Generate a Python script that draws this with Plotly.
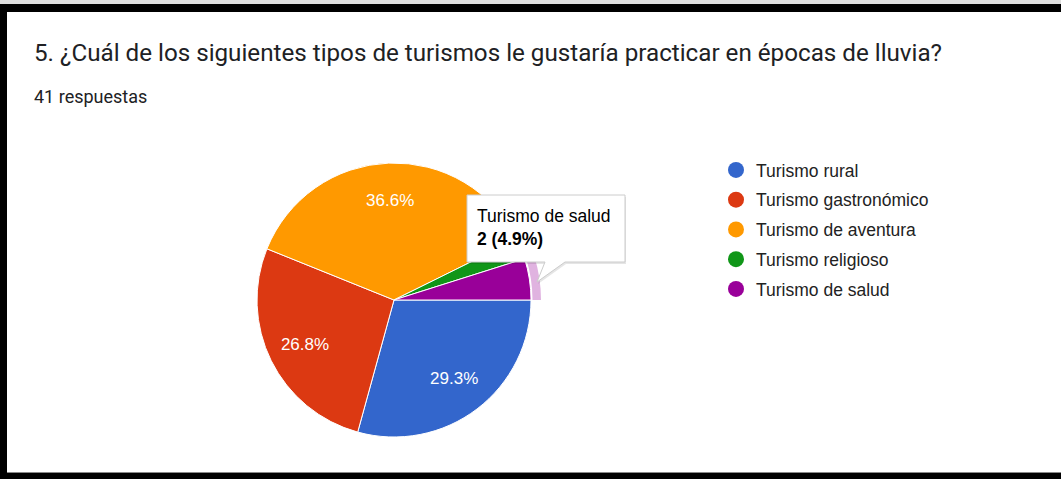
import plotly.graph_objects as go

W, H = 1061, 479

categories = ["Turismo rural", "Turismo gastronómico", "Turismo de aventura",
              "Turismo religioso", "Turismo de salud"]
counts = [12, 11, 15, 1, 2]
colors = ["#3366cc", "#dc3912", "#ff9900", "#109618", "#990099"]
title_text = "5. ¿Cuál de los siguientes tipos de turismos le gustaría practicar en épocas de lluvia?"
highlight_index = 4
highlight_color = "#e0b3e0"

total = sum(counts)

def px(x):
    return x / W

def py(y):
    return 1 - y / H

# pie geometry (pixels)
cx, cy, r = 394, 300, 137
ring_r = 147
pie_domain = dict(x=[px(cx - r), px(cx + r)], y=[py(cy + r), py(cy - r)])

texttemplate = ["%{percent:.1%}" if c / total >= 0.05 else "" for c in counts]

fig = go.Figure()

fig.add_trace(go.Pie(
    labels=categories, values=counts, sort=False, direction="clockwise", rotation=90,
    marker=dict(colors=colors, line=dict(color="white", width=1)),
    textinfo="none", domain=pie_domain, showlegend=False, hoverinfo="skip",
))

# label layer: transparent donut so that percentages sit further out, like the original
fig.add_trace(go.Pie(
    labels=categories, values=counts, sort=False, direction="clockwise", rotation=90,
    marker=dict(colors=["rgba(0,0,0,0)"] * len(counts), line=dict(width=0)),
    hole=0.45, texttemplate=texttemplate, textposition="inside",
    insidetextorientation="horizontal",
    textfont=dict(family="Liberation Sans, Arial", size=17, color="white"),
    domain=pie_domain, showlegend=False, hoverinfo="skip",
))

ring_colors = [highlight_color if i == highlight_index else "rgba(0,0,0,0)" for i in range(len(counts))]
fig.add_trace(go.Pie(
    labels=categories, values=counts, sort=False, direction="clockwise", rotation=90,
    marker=dict(colors=ring_colors, line=dict(width=0)),
    hole=(r + 1.5) / ring_r, textinfo="none",
    domain=dict(x=[px(cx - ring_r), px(cx + ring_r)], y=[py(cy + ring_r), py(cy - ring_r)]),
    showlegend=False, hoverinfo="skip",
))

# legend entries with circle symbols
for i, (cat, col) in enumerate(zip(categories, colors)):
    fig.add_trace(go.Scatter(
        x=[None], y=[None], mode="markers", name=cat, legendgroup=str(i),
        marker=dict(symbol="circle", size=16, color=col),
    ))

shapes = []
# frame
shapes.append(dict(type="rect", xref="paper", yref="paper", x0=0, x1=1, y0=py(4), y1=1,
                   fillcolor="#dedede", line=dict(width=0), layer="above"))
shapes.append(dict(type="rect", xref="paper", yref="paper", x0=0, x1=1, y0=py(12), y1=py(4),
                   fillcolor="black", line=dict(width=0), layer="above"))
shapes.append(dict(type="rect", xref="paper", yref="paper", x0=0, x1=px(7), y0=0, y1=py(4),
                   fillcolor="black", line=dict(width=0), layer="above"))
shapes.append(dict(type="rect", xref="paper", yref="paper", x0=0, x1=1, y0=0, y1=py(473),
                   fillcolor="black", line=dict(width=0), layer="above"))
shapes.append(dict(type="line", xref="paper", yref="paper", x0=px(7), x1=1, y0=py(472.5), y1=py(472.5),
                   line=dict(color="#888888", width=1), layer="above"))

# tooltip callout (box + tail) in pixel coordinates
bx0, by0, bx1, by1 = 467, 195, 625, 262
tail = [(565, 262), (537, 282), (545, 262)]
def callout_path(dx=0, dy=0):
    pts = [(bx0, by0), (bx1, by0), (bx1, by1), tail[0], tail[1], tail[2], (bx0, by1)]
    return "M " + " L ".join(f"{px(x + dx)},{py(y + dy)}" for x, y in pts) + " Z"

shapes.append(dict(type="path", xref="paper", yref="paper", path=callout_path(1, 2),
                   fillcolor="rgba(0,0,0,0.10)", line=dict(width=0), layer="above"))
shapes.append(dict(type="path", xref="paper", yref="paper", path=callout_path(),
                   fillcolor="white", line=dict(color="#cccccc", width=1), layer="above"))

pct = counts[highlight_index] / total * 100
annotations = [
    dict(text=title_text, x=px(32), y=py(53), xref="paper", yref="paper",
         xanchor="left", yanchor="middle", showarrow=False,
         font=dict(family="Roboto, Arial", size=24.2, color="#202124")),
    dict(text=f"{total} respuestas", x=px(32), y=py(97), xref="paper", yref="paper",
         xanchor="left", yanchor="middle", showarrow=False,
         font=dict(family="Roboto, Arial", size=18, color="#202124")),
    dict(text=f"{categories[highlight_index]}<br><b>{counts[highlight_index]} ({pct:.1f}%)</b>",
         x=px(475), y=py(227), xref="paper", yref="paper",
         xanchor="left", yanchor="middle", showarrow=False, align="left",
         font=dict(family="Liberation Sans, Arial", size=17.5, color="#000000")),
]

fig.update_layout(
    width=W, height=H, margin=dict(l=0, r=0, t=0, b=0),
    paper_bgcolor="white", plot_bgcolor="white",
    xaxis=dict(visible=False), yaxis=dict(visible=False),
    shapes=shapes, annotations=annotations,
    legend=dict(x=px(716), y=py(152), xanchor="left", yanchor="top",
                font=dict(family="Liberation Sans, Arial", size=17.5, color="#222222"),
                traceorder="grouped", tracegroupgap=4, bgcolor="rgba(0,0,0,0)"),
    hovermode=False,
)

fig.write_html("out.html", config={"displayModeBar": False},
               post_script="document.body.style.margin='0px';")
